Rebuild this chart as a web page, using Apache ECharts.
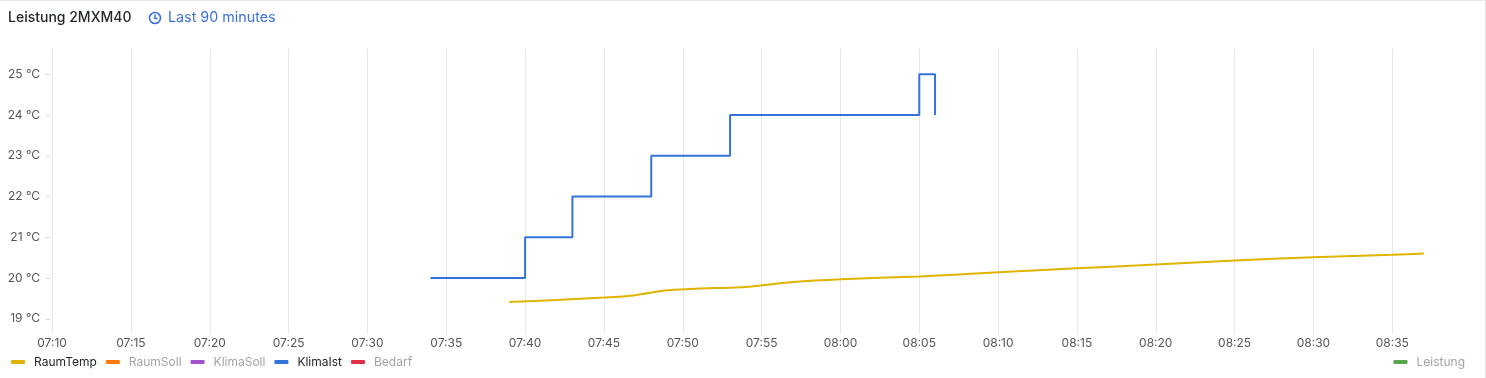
<!DOCTYPE html>
<html>
<head>
<meta charset="utf-8">
<script src="https://cdn.jsdelivr.net/npm/echarts@6/dist/echarts.min.js"></script>
<style>
  html, body { margin: 0; padding: 0; background: #ffffff; }
  #panel {
    width: 1485px;
    height: 377px;
    border-top: 1px solid #e3e4e6;
    border-right: 1px solid #e3e4e6;
    border-top-right-radius: 2px;
  }
</style>
</head>
<body>
<div id="panel"></div>
<script>
// time range of the panel (last 90 minutes)
const rangeStart = '07:09:52'
const rangeEnd = '08:39:52'

// tick labels
const xTicks = ['07:10', '07:15', '07:20', '07:25', '07:30', '07:35', '07:40', '07:45', '07:50',
  '07:55', '08:00', '08:05', '08:10', '08:15', '08:20', '08:25', '08:30', '08:35']
const yTicks = [19, 20, 21, 22, 23, 24, 25]

// series values [time, °C]
const raumTemp = [
  ['07:39', 19.41], ['07:42', 19.46], ['07:45', 19.52], ['07:47', 19.58], ['07:49', 19.70],
  ['07:51', 19.74], ['07:54', 19.78], ['07:57', 19.90], ['08:00', 19.97], ['08:05', 20.04],
  ['08:10', 20.14], ['08:15', 20.24], ['08:20', 20.33], ['08:25', 20.43], ['08:30', 20.51],
  ['08:35', 20.57], ['08:37', 20.60]
]
const klimaIst = [
  ['07:34', 20], ['07:40', 21], ['07:43', 22], ['07:48', 23], ['07:53', 24], ['08:05', 25], ['08:06', 24]
]
const raumSoll = []
const klimaSoll = []
const bedarf = []
const leistung = []

const darkText = '#24292e'
const greyText = '#a1a4a9'
const axisText = '#52565b'
const gridColor = '#e6e7e9'

// minutes since midnight
function toTime (hhmm) {
  const p = hhmm.split(':').map(Number)
  return p[0] * 60 + p[1] + (p[2] || 0) / 60
}
function pad (n) {
  return (n < 10 ? '0' : '') + n
}
function toPoints (rows) {
  return rows.map(r => [toTime(r[0]), r[1]])
}

const chart = echarts.init(document.getElementById('panel'))
const option = {
  animation: false,
  textStyle: { fontFamily: 'Inter, "Noto Sans", sans-serif' },
  title: {
    text: 'Leistung 2MXM40',
    left: 3,
    top: 5,
    textStyle: { fontSize: 14, fontWeight: 500, color: darkText, fontFamily: 'Inter' }
  },
  graphic: [
    {
      type: 'circle',
      shape: { cx: 155, cy: 17, r: 5.5 },
      style: { fill: 'none', stroke: '#3d71d9', lineWidth: 1.6 }
    },
    {
      type: 'polyline',
      shape: { points: [[155, 13.5], [155, 17.5], [157.5, 17.5]] },
      style: { fill: 'none', stroke: '#3d71d9', lineWidth: 1.5 }
    },
    {
      type: 'text',
      left: 168,
      top: 10,
      style: { text: 'Last 90 minutes', fill: '#3d71d9', fontSize: 14.3, fontFamily: 'Inter' }
    }
  ],
  grid: {
    left: 50,
    right: 16,
    top: 48,
    bottom: 47
  },
  legend: [
    {
      left: 6,
      top: 350,
      selectedMode: false,
      icon: 'roundRect',
      itemWidth: 14,
      itemHeight: 4,
      itemGap: 9,
      textStyle: { fontSize: 12, fontFamily: 'Inter', padding: [0, 0, 0, 4] },
      data: [
        { name: 'RaumTemp', textStyle: { color: darkText } },
        { name: 'RaumSoll', textStyle: { color: greyText } },
        { name: 'KlimaSoll', textStyle: { color: greyText } },
        { name: 'KlimaIst', textStyle: { color: darkText } },
        { name: 'Bedarf', textStyle: { color: greyText } }
      ]
    },
    {
      right: 15,
      top: 350,
      selectedMode: false,
      icon: 'roundRect',
      itemWidth: 14,
      itemHeight: 4,
      textStyle: { fontSize: 12, fontFamily: 'Inter', padding: [0, 0, 0, 4] },
      data: [{ name: 'Leistung', textStyle: { color: greyText } }]
    }
  ],
  xAxis: {
    type: 'value',
    min: toTime(rangeStart),
    max: toTime(rangeEnd),
    axisLine: { show: false },
    axisTick: {
      show: true,
      length: 3,
      lineStyle: { color: gridColor },
      customValues: xTicks.map(toTime)
    },
    splitLine: { show: true, lineStyle: { color: gridColor, width: 1 } },
    axisLabel: {
      customValues: xTicks.map(toTime),
      margin: 6,
      fontSize: 12,
      color: axisText,
      fontFamily: 'Inter',
      formatter: function (v) {
        const m = Math.round(v)
        return pad(Math.floor(m / 60)) + ':' + pad(m % 60)
      }
    }
  },
  yAxis: {
    type: 'value',
    min: 18.7,
    max: 25.62,
    axisLine: { show: false },
    splitLine: { show: false },
    axisTick: {
      show: true,
      length: 4,
      lineStyle: { color: '#d5d7da' },
      customValues: yTicks
    },
    axisLabel: {
      customValues: yTicks,
      margin: 10,
      fontSize: 12,
      color: axisText,
      fontFamily: 'Inter',
      formatter: '{value} °C'
    }
  },
  series: [
    {
      name: 'RaumTemp',
      type: 'line',
      color: '#E0B400',
      showSymbol: false,
      smooth: 0.2,
      lineStyle: { width: 2 },
      data: toPoints(raumTemp)
    },
    { name: 'RaumSoll', type: 'line', color: '#FF780A', showSymbol: false, data: raumSoll },
    { name: 'KlimaSoll', type: 'line', color: '#A352CC', showSymbol: false, data: klimaSoll },
    {
      name: 'KlimaIst',
      type: 'line',
      color: '#3274D9',
      step: 'end',
      showSymbol: false,
      lineStyle: { width: 2 },
      data: toPoints(klimaIst)
    },
    { name: 'Bedarf', type: 'line', color: '#E02F44', showSymbol: false, data: bedarf },
    { name: 'Leistung', type: 'line', color: '#56A64B', showSymbol: false, data: leistung }
  ]
}
chart.setOption(option)
</script>
</body>
</html>
